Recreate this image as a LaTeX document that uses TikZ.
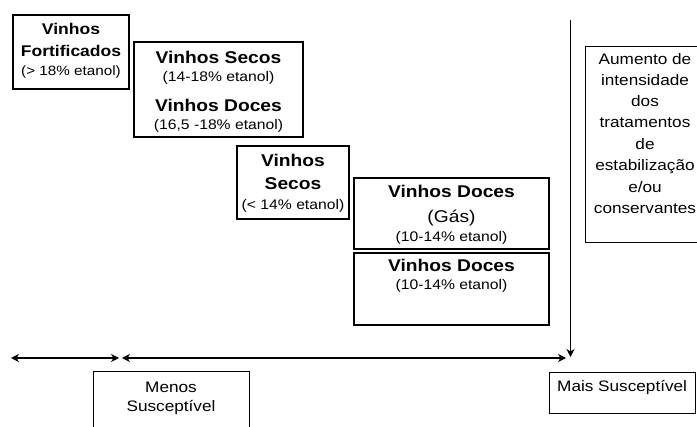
\documentclass[tikz,border=0pt]{standalone}
\usepackage{fontspec}
\setmainfont{Liberation Sans}[FakeStretch=1.13]
\usetikzlibrary{arrows.meta}
\tikzset{
  thickbox/.style={draw=black,line width=1.8pt},
  thinbox/.style={draw=black,line width=0.8pt},
  ttl/.style={anchor=base,inner sep=0pt,font=\bfseries\fontsize{17}{20}\selectfont},
  ttlsm/.style={anchor=base,inner sep=0pt,font=\bfseries\fontsize{15.5}{18}\selectfont},
  sub/.style={anchor=base,inner sep=0pt,font=\fontsize{13.9}{16}\selectfont},
  subsm/.style={anchor=base,inner sep=0pt,font=\fontsize{13.5}{16}\selectfont},
  txt/.style={anchor=base,inner sep=0pt,font=\fontsize{15.2}{18}\selectfont},
  gas/.style={anchor=base,inner sep=0pt,font=\fontsize{17}{20}\selectfont},
  arr/.style={line width=1.1pt,{Stealth[length=8pt,width=8pt,inset=2.5pt]}-{Stealth[length=8pt,width=8pt,inset=2.5pt]}},
  darr/.style={line width=1.1pt,-{Stealth[length=8pt,width=8pt,inset=2.5pt]}}
}
\begin{document}
\begin{tikzpicture}[x=1pt,y=-1pt]
\useasboundingbox (0,0) rectangle (697,427);
\clip (0,0) rectangle (697,427);
% boxes
\draw[thickbox] (13,15) rectangle (129,89) node[midway] (b1) {};
\draw[thickbox] (134,42) rectangle (303,137) node[midway] (b2) {};
\draw[thickbox] (237,146) rectangle (349,219) node[midway] (b3) {};
\draw[thickbox] (354,178) rectangle (549,249) node[midway] (b4) {};
\draw[thickbox] (354,253) rectangle (549,325) node[midway] (b5) {};
\draw[thinbox] (585,46) rectangle (712,242) node[midway] (b6) {};
\draw[thinbox] (93,371) rectangle (249,440) node[midway] (b7) {};
\draw[thinbox] (549,372) rectangle (695,413) node[midway] (b8) {};
% box 1
\node[ttlsm] (t1a) at (71,35) {Vinhos};
\node[ttlsm] (t1b) at (71,57) {Fortificados};
\node[subsm] (t1c) at (71,76) {(> 18\% etanol)};
% box 2
\node[ttl] (t2a) at (218.5,64) {Vinhos Secos};
\node[sub] (t2b) at (218.5,82) {(14-18\% etanol)};
\node[ttl] (t2c) at (218.5,112) {Vinhos Doces};
\node[sub] (t2d) at (218.5,130) {(16,5 -18\% etanol)};
% box 3
\node[ttl] (t3a) at (293,167) {Vinhos};
\node[ttl] (t3b) at (293,190) {Secos};
\node[sub] (t3c) at (293,210) {(< 14\% etanol)};
% box 4
\node[ttl] (t4a) at (451.5,198) {Vinhos Doces};
\node[gas] (t4b) at (451.5,223) {(Gás)};
\node[sub] (t4c) at (451.5,242) {(10-14\% etanol)};
% box 5
\node[ttl] (t5a) at (451.5,272) {Vinhos Doces};
\node[sub] (t5b) at (451.5,290) {(10-14\% etanol)};
% box 6
\node[txt] (t61) at (645,65) {Aumento de};
\node[txt] (t62) at (645,86) {intensidade};
\node[txt] (t63) at (645,107) {dos};
\node[txt] (t64) at (645,128) {tratamentos};
\node[txt] (t65) at (645,150) {de};
\node[txt] (t66) at (645,171) {estabilização};
\node[txt] (t67) at (645,193) {e/ou};
\node[txt] (t68) at (645,214) {conservantes};
% box 7, 8
\node[txt] (t7a) at (171,393) {Menos};
\node[txt] (t7b) at (171,412) {Susceptível};
\node[txt,anchor=base west] (t8) at (557,392) {Mais Susceptível};
% arrows
\coordinate (a1) at (11,358);
\coordinate (a2) at (119,358);
\coordinate (a3) at (122,358);
\coordinate (a4) at (566,358);
\coordinate (v1) at (570.5,20);
\coordinate (v2) at (570.5,357);
\draw[arr] (a1) -- (a2);
\draw[arr] (a3) -- (a4);
\draw[darr] (v1) -- (v2);
\end{tikzpicture}
\end{document}
